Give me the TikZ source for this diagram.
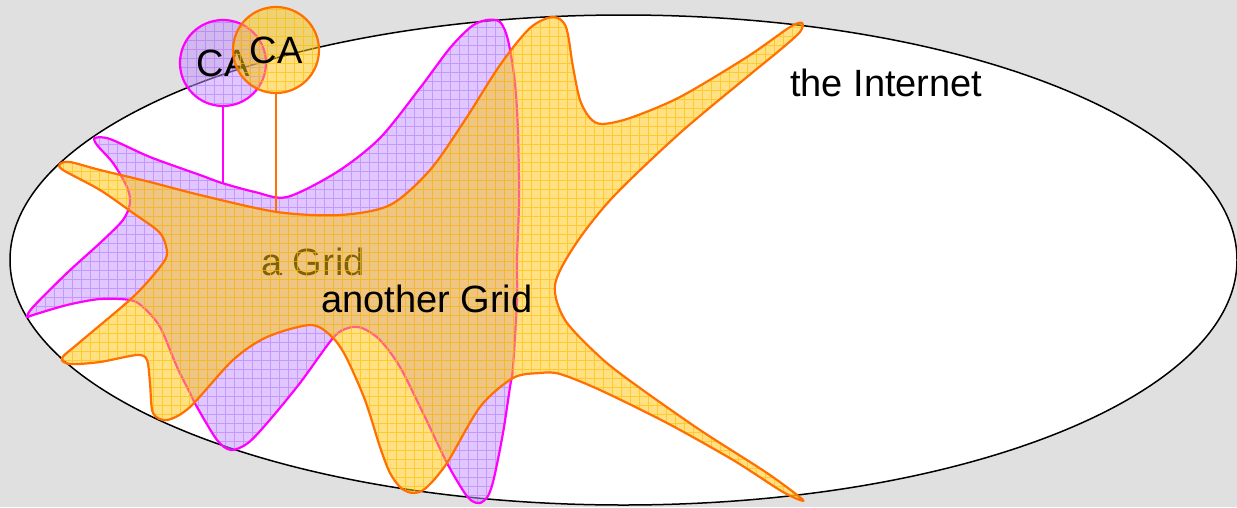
\documentclass[tikz,border=0pt]{standalone}
\usepackage{fontspec}
\setmainfont{Liberation Sans}
\definecolor{bg}{RGB}{224,224,224}
\definecolor{pfill}{RGB}{195,145,255}
\definecolor{pgrid}{RGB}{160,80,255}
\definecolor{pline}{RGB}{255,0,255}
\definecolor{yfill}{RGB}{255,197,10}
\definecolor{ygrid}{RGB}{255,190,0}
\definecolor{yline}{RGB}{255,112,0}
\begin{document}
\begin{tikzpicture}[x=1pt,y=-1pt,
  big/.style={font=\fontsize{38}{44}\selectfont, inner sep=0pt},
  pblob/.style={insert path={plot[smooth cycle,tension=0.5] coordinates {
    (95,138) (110,139) (150,157) (200,175) (222,183) (255,192) (287,197) (337,172)
    (380,138) (420,88) (450,48) (472,26) (487,20) (500,22) (508,40) (515,83)
    (518,133) (519,200) (517,260) (517,300) (513,367) (510,387) (503,433) (494,478)
    (488,496) (480,503) (472,501) (464,492) (447,463) (423,413) (400,367) (380,340) (362,328) (348,328)
    (333,338) (300,383) (268,422) (248,443) (231,450) (217,440) (197,407) (190,393) (177,367)
    (160,327) (143,307) (130,300) (100,299) (67,305) (33,315) (27,317) (33,307)
    (67,273) (100,243) (123,220) (130,203) (127,187) (113,163) (97,145)}}},
  yblob/.style={insert path={plot[smooth cycle,tension=0.5] coordinates {
    (60,164) (70,162) (100,170) (150,182) (200,195) (277,212) (340,215) (390,205)
    (430,170) (465,120) (500,65) (530,28) (553,17) (566,27) (573,67) (580,100)
    (590,118) (602,124) (630,118) (680,97) (747,57) (790,27) (802,23) (800,32)
    (780,50) (747,77) (680,133) (613,197) (575,245) (555,285) (565,320) (600,357)
    (633,383) (700,430) (767,473) (803,500) (783,492) (733,460) (667,423) (600,390)
    (560,374) (540,373) (513,378) (480,407) (447,463) (426,488) (413,493) (401,488) (390,473) (380,447)
    (365,400) (345,355) (330,335) (310,325) (267,337) (233,360) (190,407) (167,420)
    (153,413) (150,383) (147,360) (137,355) (100,362) (70,364) (62,358) (80,342)
    (133,297) (160,267) (167,253) (160,233) (133,213) (100,190) (63,170)}}},
  pgridlines/.style={draw=pgrid, draw opacity=0.4, line width=0.8pt, step=9pt},
  ygridlines/.style={draw=ygrid, draw opacity=0.65, line width=0.8pt, step=9pt},
  pcircle/.style={circle, minimum size=86pt, inner sep=0pt, draw=pline, line width=2.2pt,
    fill=pfill, fill opacity=0.5, text opacity=1, big,
    path picture={\draw[pgridlines] (path picture bounding box.south west) grid (path picture bounding box.north east);}},
  ycircle/.style={circle, minimum size=86pt, inner sep=0pt, draw=yline, line width=2.2pt,
    fill=yfill, fill opacity=0.5, text opacity=1, big,
    path picture={\draw[ygridlines] (path picture bounding box.south west) grid (path picture bounding box.north east);}}
]
\useasboundingbox (0,0) rectangle (1237,507);
\fill[bg] (0,0) rectangle (1237,507);
\draw[black, line width=1.5pt, fill=white] (623.5,260) ellipse [x radius=613.5, y radius=245];
% purple grid
\fill[pfill, fill opacity=0.5, pblob];
\begin{scope}
  \clip[pblob];
  \draw[pgridlines] (0,507) grid (1237,0);
\end{scope}
\draw[pline, line width=2.2pt, pblob];
\node[pcircle] (caP) at (223,63) {CA};
\coordinate (pend) at (223,184);
\draw[pline, line width=2.2pt] (caP.south) -- (pend);
\node[big, anchor=base west] (agrid) at (261,275) {a Grid};
% yellow grid
\fill[yfill, fill opacity=0.5, yblob];
\begin{scope}
  \clip[yblob];
  \draw[ygridlines] (0,507) grid (1237,0);
\end{scope}
\draw[yline, line width=2.2pt, yblob];
\node[ycircle] (caY) at (276,50) {CA};
\coordinate (yend) at (276,212);
\draw[yline, line width=2.2pt] (caY.south) -- (yend);
\node[big, anchor=base west] (another) at (321,312) {another Grid};
\node[big, anchor=base west] (internet) at (790,96) {the Internet};
\end{tikzpicture}
\end{document}
